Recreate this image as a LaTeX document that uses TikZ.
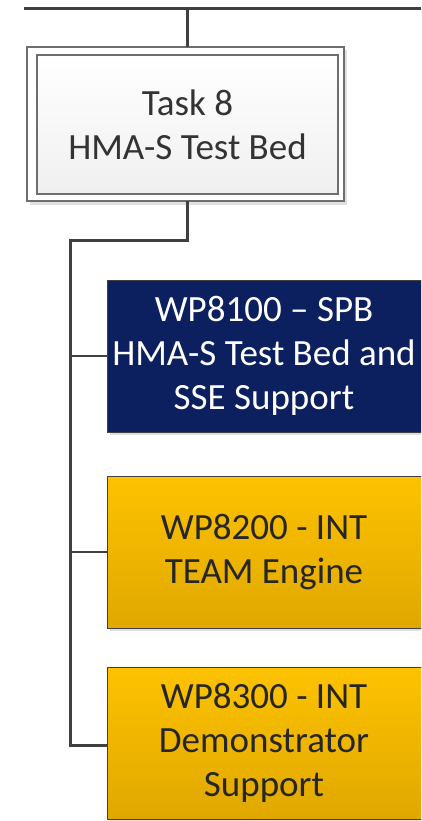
\documentclass[tikz,border=0pt]{standalone}
\usepackage{fontspec}
\setmainfont{Carlito}
\usetikzlibrary{shadows,calc}
\definecolor{navybox}{RGB}{12,31,94}
\definecolor{goldtop}{RGB}{253,194,0}
\definecolor{goldbot}{RGB}{224,168,0}
\definecolor{linegray}{RGB}{64,64,64}
\definecolor{framegray}{RGB}{110,110,110}
\begin{document}
\begin{tikzpicture}[x=1pt,y=1pt,
  conn/.style={draw=linegray,line width=3pt},
  wpbox/.style={rectangle,minimum width=320pt,minimum height=152pt,
    align=center,font=\fontsize{37}{44}\selectfont,inner sep=0pt,
    drop shadow={shadow xshift=3pt,shadow yshift=-3pt,opacity=0.25}},
  navywp/.style={wpbox,fill=navybox,draw=linegray,line width=1pt,text=white},
  goldwp/.style={wpbox,top color=goldtop,bottom color=goldbot,draw=linegray,line width=1pt,text=black!85},
  taskbox/.style={rectangle,minimum width=301pt,minimum height=139pt,align=center,
    font=\fontsize{37}{44}\selectfont,inner sep=0pt,text=black!80,
    top color=white,bottom color=black!6,draw=framegray,line width=1.5pt}]
\useasboundingbox (0,0) rectangle (421,-821);
\clip (0,0) rectangle (421,-821);

% task box with its outer frame
\fill[black!25,opacity=0.5] (30,-50) rectangle (347,-205);
\fill[white] (27,-47) rectangle (344,-201);
\draw[framegray,line width=1.5pt] (27,-47) rectangle (344,-201);
\node[taskbox] (task) at (187.5,-124.5) {Task 8\\HMA-S Test Bed};

% work package boxes (running past the right edge)
\node[navywp] (wp1) at (267,-356) {\hspace*{-6pt}WP8100 -- SPB\\\hspace*{-6pt}HMA-S Test Bed and\\\hspace*{-6pt}SSE Support};
\node[goldwp] (wp2) at (267,-552) {\hspace*{-6pt}WP8200 - INT\\\hspace*{-6pt}TEAM Engine};
\node[goldwp] (wp3) at (267,-743) {\hspace*{-6pt}WP8300 - INT\\\hspace*{-6pt}Demonstrator\\\hspace*{-6pt}Support};

% connectors
\coordinate (tl) at (24,-9);
\coordinate (tr) at (421,-9);
\coordinate (bend) at (187.5,-240);
\coordinate (spine) at (70,-240);
\coordinate (spineend) at (70,-745);
\draw[conn] (tl) -- (tr);
\draw[conn] (task.north |- tl) -- (187.5,-47);
\draw[conn] (187.5,-201) -- (bend) -- (spine) -- (spineend) -- (wp3.west |- spineend);
\draw[conn,line width=2.5pt] (spine |- wp1.west) -- (wp1.west);
\draw[conn,line width=2.5pt] (spine |- wp2.west) -- (wp2.west);
\end{tikzpicture}
\end{document}
